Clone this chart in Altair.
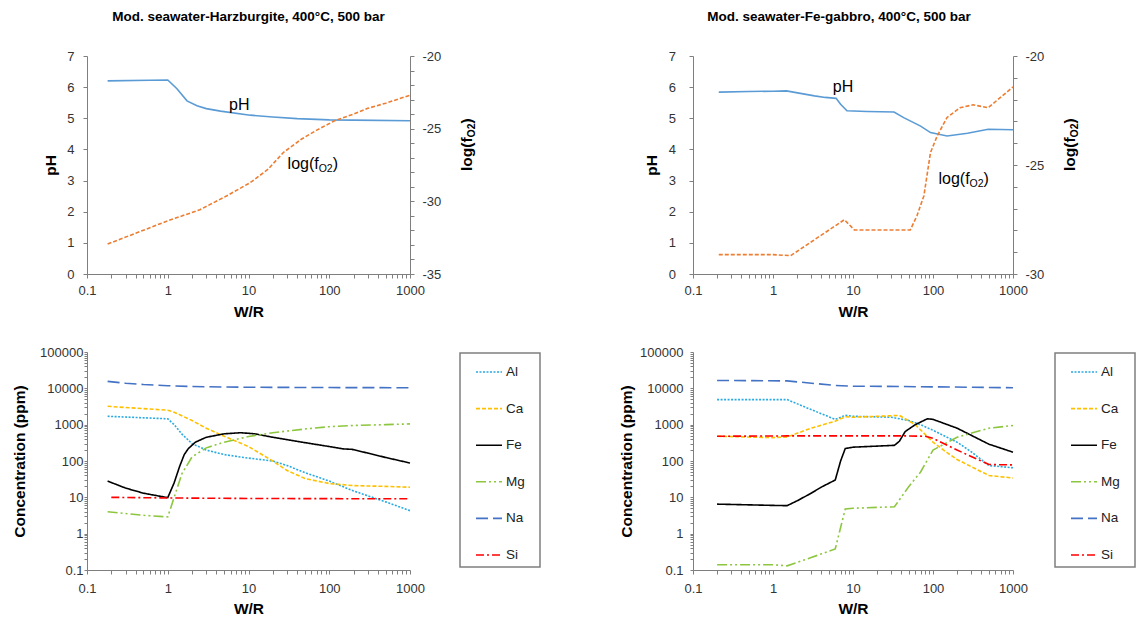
import altair as alt
import pandas as pd

FONT = "Liberation Sans"

# ---------------- axis tick definitions ----------------
X_LABELS = [0.1, 1, 10, 100, 1000]
X_TICKS = [d * m for d in X_LABELS[:-1] for m in range(1, 10)] + [1000]
C_LABELS = [0.1, 1, 10, 100, 1000, 10000, 100000]
C_TICKS = [round(d * m, 6) for d in C_LABELS[:-1] for m in range(1, 10)] + [100000]
PH_TICKS = [0, 1, 2, 3, 4, 5, 6, 7]
FO2_TICKS_HZ = list(range(-35, -19))
FO2_TICKS_GB = list(range(-30, -19))

# ---------------- Harzburgite: pH and log fO2 ----------------
HZ_PH_WR = [0.18, 0.6, 1.0, 1.3, 1.73, 2.3, 3.0, 4.5, 10.5, 20, 40, 100, 200, 1000]
HZ_PH = [6.20, 6.22, 6.23, 5.95, 5.56, 5.40, 5.31, 5.23, 5.10, 5.04, 4.99, 4.95, 4.94, 4.92]
HZ_FO2_WR = [0.18, 1.0, 2.5, 5.4, 10.6, 17.5, 27, 45, 70, 115, 200, 300, 500, 1000]
HZ_FO2 = [-32.94, -31.34, -30.58, -29.62, -28.70, -27.79, -26.64, -25.73, -25.10,
          -24.47, -24.0, -23.6, -23.25, -22.70]

# ---------------- Fe-gabbro: pH and log fO2 ----------------
GB_PH_WR = [0.21, 0.5, 1.0, 1.47, 2.2, 3.3, 4.5, 6.15, 7.0, 8.4, 15, 32.6, 43, 70, 93,
            150, 270, 490, 1000]
GB_PH = [5.84, 5.86, 5.87, 5.88, 5.80, 5.72, 5.67, 5.64, 5.45, 5.24, 5.22, 5.20, 5.02,
         4.75, 4.54, 4.43, 4.52, 4.65, 4.63]
GB_FO2_WR = [0.21, 1.0, 1.66, 7.8, 10.4, 52, 63, 77, 93, 113, 150, 218, 317, 490, 1000]
GB_FO2 = [-29.11, -29.11, -29.16, -27.51, -27.98, -27.98, -27.33, -26.41, -24.43,
          -23.66, -22.82, -22.37, -22.24, -22.37, -21.42]

# ---------------- Harzburgite: concentrations (ppm) ----------------
HZ_AL_WR = [0.18, 1.0, 1.2, 1.5, 2.0, 3.0, 5.0, 10, 20, 30, 50, 100, 200, 500, 1000]
HZ_AL = [1700, 1450, 1000, 550, 300, 200, 150, 120, 100, 75, 48, 28, 15, 7.5, 4.3]
HZ_CA_WR = [0.18, 1.0, 1.2, 2.0, 3.0, 5.0, 7.0, 10, 20, 30, 50, 100, 200, 500, 1000]
HZ_CA = [3200, 2500, 2200, 1300, 800, 480, 350, 250, 100, 55, 33, 24, 21, 20, 19]
HZ_FE_WR = [0.18, 0.3, 0.5, 1.0, 1.2, 1.4, 1.6, 1.8, 2.2, 3.0, 5.0, 8.0, 12, 20, 50,
            100, 150, 190, 300, 500, 1000]
HZ_FE = [28, 18, 13, 9.8, 25, 70, 150, 220, 330, 450, 560, 600, 560, 450, 320, 250,
         215, 210, 165, 125, 88]
HZ_MG_WR = [0.18, 0.5, 1.0, 1.2, 1.5, 2.0, 3.0, 5.0, 10, 20, 50, 100, 200, 500, 1000]
HZ_MG = [4.0, 3.2, 2.9, 10, 45, 130, 230, 330, 470, 600, 760, 880, 950, 1000, 1050]
HZ_NA_WR = [0.18, 0.3, 0.5, 1.0, 2.0, 5.0, 10, 100, 1000]
HZ_NA = [15500, 13800, 12700, 11800, 11200, 10900, 10700, 10500, 10400]
HZ_SI_WR = [0.2, 1.0, 10, 100, 1000]
HZ_SI = [10, 9.6, 9.3, 9.2, 9.1]

# ---------------- Fe-gabbro: concentrations (ppm) ----------------
GB_AL_WR = [0.2, 1.5, 3.0, 6.0, 8.0, 10, 30, 50, 70, 100, 200, 300, 500, 1000]
GB_AL = [4900, 4900, 2600, 1400, 1800, 1700, 1600, 1300, 1000, 700, 330, 180, 75, 65]
GB_CA_WR = [0.2, 1.0, 1.5, 3.0, 6.0, 8.0, 10, 38, 60, 100, 150, 200, 300, 500, 1000]
GB_CA = [480, 440, 460, 800, 1250, 1650, 1600, 1800, 1000, 330, 170, 110, 70, 40, 34]
GB_FE_WR = [0.2, 1.0, 1.5, 2.0, 3.0, 4.0, 6.0, 7.0, 8.0, 10, 33, 38, 45, 60, 85, 100,
            200, 500, 1000]
GB_FE = [6.5, 6.0, 5.9, 8, 13, 19, 30, 100, 220, 240, 270, 350, 650, 1000, 1450, 1400,
         800, 290, 175]
GB_MG_WR = [0.2, 1.0, 1.5, 3.0, 6.0, 8.0, 10, 33, 50, 70, 100, 200, 500, 1000]
GB_MG = [0.14, 0.14, 0.13, 0.22, 0.38, 4.8, 5.0, 5.5, 20, 50, 200, 450, 800, 950]
GB_NA_WR = [0.2, 1.5, 6.0, 10, 100, 1000]
GB_NA = [16500, 16000, 12000, 11500, 11000, 10400]
GB_SI_WR = [0.2, 1.5, 10, 50, 80, 100, 200, 500, 1000]
GB_SI = [480, 490, 490, 490, 480, 420, 200, 80, 78]

ELEMENTS = ["Al", "Ca", "Fe", "Mg", "Na", "Si"]
EL_COLORS = ["#29ABE2", "#FFC000", "#000000", "#8DC63F", "#4472C4", "#FF0000"]
EL_DASHES = [[2, 1.5], [4, 2], [1, 0], [10, 3, 2, 3, 2, 3], [12, 5], [8, 3, 2, 3]]

PH_COLOR = "#5B9BD5"
FO2_COLOR = "#ED7D31"

TITLE_HZ = "Mod. seawater-Harzburgite, 400°C, 500 bar"
TITLE_GB = "Mod. seawater-Fe-gabbro, 400°C, 500 bar"

X_EXPR = "indexof([0.1,1,10,100,1000], datum.value) >= 0 ? datum.label : ''"
C_EXPR = "indexof([0.1,1,10,100,1000,10000,100000], datum.value) >= 0 ? datum.label : ''"
R_EXPR = "datum.value % 5 === 0 ? '' + datum.value : ''"

AX_GRAY = "#7f7f7f"
LAB_COL = "#333333"


def x_enc(label_pad, title_pad):
    return alt.X(
        "wr:Q",
        scale=alt.Scale(type="log", domain=[0.1, 1000]),
        axis=alt.Axis(values=X_TICKS, labelExpr=X_EXPR, format="~g", title="W/R",
                      tickSize=4, labelPadding=label_pad, titlePadding=title_pad),
    )


def top_panel(ph_wr, ph, fo2_wr, fo2, fo2_dom, fo2_ticks, ph_lab, fo2_lab, title,
              title_dx, w, h, ph_pad, ph_tpad, rt_x):
    X = x_enc(6.5, 6.8)
    ph_scale = alt.Scale(domain=[0, 7])
    ph_line = alt.Chart(pd.DataFrame({"wr": ph_wr, "v": ph})).mark_line(
        color=PH_COLOR, strokeWidth=1.6
    ).encode(
        x=X,
        y=alt.Y("v:Q", scale=ph_scale,
                axis=alt.Axis(values=PH_TICKS, title="pH", tickSize=4,
                              labelPadding=ph_pad, titlePadding=ph_tpad)),
    )
    fo2_line = alt.Chart(pd.DataFrame({"wr": fo2_wr, "v": fo2})).mark_line(
        color=FO2_COLOR, strokeWidth=1.6, strokeDash=[4, 2]
    ).encode(
        x=X,
        y=alt.Y("v:Q", scale=alt.Scale(domain=fo2_dom),
                axis=alt.Axis(orient="right", values=fo2_ticks, labelExpr=R_EXPR,
                              title=None, tickSize=4, labelPadding=8)),
    )
    ph_df = pd.DataFrame({"wr": [ph_lab[0]], "v": [ph_lab[1]], "t": ["pH"]})
    ph_text = alt.Chart(ph_df).mark_text(
        font=FONT, fontSize=16, align="center", baseline="middle", color="black"
    ).encode(x=X, y=alt.Y("v:Q", scale=ph_scale, axis=None), text="t:N")

    layers = [ph_line, fo2_line, ph_text]
    parts = [("log(f", 16, 0, 0), ("O2", 10.5, 31.1, 5), (")", 16, 45.1, 0)]
    for txt, fs, dx, dy in parts:
        df = pd.DataFrame({"wr": [fo2_lab[0]], "v": [fo2_lab[1]], "t": [txt]})
        layers.append(alt.Chart(df).mark_text(
            font=FONT, fontSize=fs, align="left", baseline="middle", color="black",
            dx=dx, dy=dy
        ).encode(x=X, y=alt.Y("v:Q", scale=ph_scale, axis=None), text="t:N"))

    # rotated right-axis title log(fO2)
    rparts = [("log(f", 15.5, 0, 0), ("O2", 10.5, 33.6, 5), (")", 15.5, 47.6, 0)]
    for txt, fs, dx, dy in rparts:
        df = pd.DataFrame({"t": [txt]})
        layers.append(alt.Chart(df).mark_text(
            font=FONT, fontSize=fs, fontWeight="bold", align="left", baseline="middle",
            color="black", angle=270, dx=dx, dy=dy
        ).encode(x=alt.value(rt_x), y=alt.value(115), text="t:N"))

    return alt.layer(*layers).resolve_scale(y="independent").properties(
        width=w, height=h,
        title=alt.TitleParams(title, font=FONT, fontSize=13.5, fontWeight="bold",
                              anchor="middle", offset=27, dx=title_dx, color="black"),
    )


def conc_panel(series, w, h, lab_pad, t_pad, legend_x):
    frames = [pd.DataFrame({"wr": wr, "c": c, "el": name}) for name, wr, c in series]
    df = pd.concat(frames, ignore_index=True)
    leg = alt.Legend(
        orient="none", legendX=legend_x, legendY=1, symbolType="stroke",
        symbolSize=676, symbolStrokeWidth=1.6, symbolOffset=10, labelOffset=3,
        rowPadding=15.6, padding=5, strokeColor=AX_GRAY, labelFontSize=13.5,
        labelFont=FONT, labelColor="#222222",
        labelExpr="datum.label + '\u2800'",
    )
    return alt.Chart(df).mark_line(strokeWidth=1.6).encode(
        x=x_enc(8.4, 6.4),
        y=alt.Y("c:Q", scale=alt.Scale(type="log", domain=[0.1, 100000]),
                axis=alt.Axis(values=C_TICKS, labelExpr=C_EXPR, format="~g",
                              title="Concentration (ppm)", tickSize=3,
                              labelPadding=lab_pad, titlePadding=t_pad)),
        color=alt.Color("el:N", scale=alt.Scale(domain=ELEMENTS, range=EL_COLORS),
                        legend=leg, title=None),
        strokeDash=alt.StrokeDash("el:N", scale=alt.Scale(domain=ELEMENTS, range=EL_DASHES),
                                  legend=leg, title=None),
    ).properties(width=w, height=h)


tl = top_panel(HZ_PH_WR, HZ_PH, HZ_FO2_WR, HZ_FO2, [-35, -20], FO2_TICKS_HZ,
               (7.7, 5.43), (30.5, 3.53), TITLE_HZ, 0, 323, 218, 9, 8.6, 380)
tr = top_panel(GB_PH_WR, GB_PH, GB_FO2_WR, GB_FO2, [-30, -20], FO2_TICKS_GB,
               (7.5, 6.0), (117, 3.05), TITLE_GB, -14, 320, 218, 13.5, 9.1, 377)

bl = conc_panel([("Al", HZ_AL_WR, HZ_AL), ("Ca", HZ_CA_WR, HZ_CA), ("Fe", HZ_FE_WR, HZ_FE),
                 ("Mg", HZ_MG_WR, HZ_MG), ("Na", HZ_NA_WR, HZ_NA), ("Si", HZ_SI_WR, HZ_SI)],
                323, 218, 1, 12.4, 373)
br = conc_panel([("Al", GB_AL_WR, GB_AL), ("Ca", GB_CA_WR, GB_CA), ("Fe", GB_FE_WR, GB_FE),
                 ("Mg", GB_MG_WR, GB_MG), ("Na", GB_NA_WR, GB_NA), ("Si", GB_SI_WR, GB_SI)],
                320, 218, 7, 5.4, 362)

chart = alt.concat(
    tl, tr, bl, br, columns=2, spacing={"row": 78, "column": 283}, bounds="flush"
).resolve_scale(
    color="independent", strokeDash="independent"
).resolve_legend(
    color="independent", strokeDash="independent"
).properties(
    padding={"left": 4, "top": 1, "right": 0, "bottom": 0}
).configure_view(stroke=None).configure_axis(
    labelFont=FONT, titleFont=FONT, labelFontSize=13, titleFontSize=15.5,
    titleFontWeight="bold", labelColor=LAB_COL, titleColor="black",
    domainColor=AX_GRAY, tickColor=AX_GRAY, grid=False, labelFlush=False,
).configure_legend(strokeWidth=1.5)

chart.save("out.html", embed_options={"renderer": "svg", "actions": False})
